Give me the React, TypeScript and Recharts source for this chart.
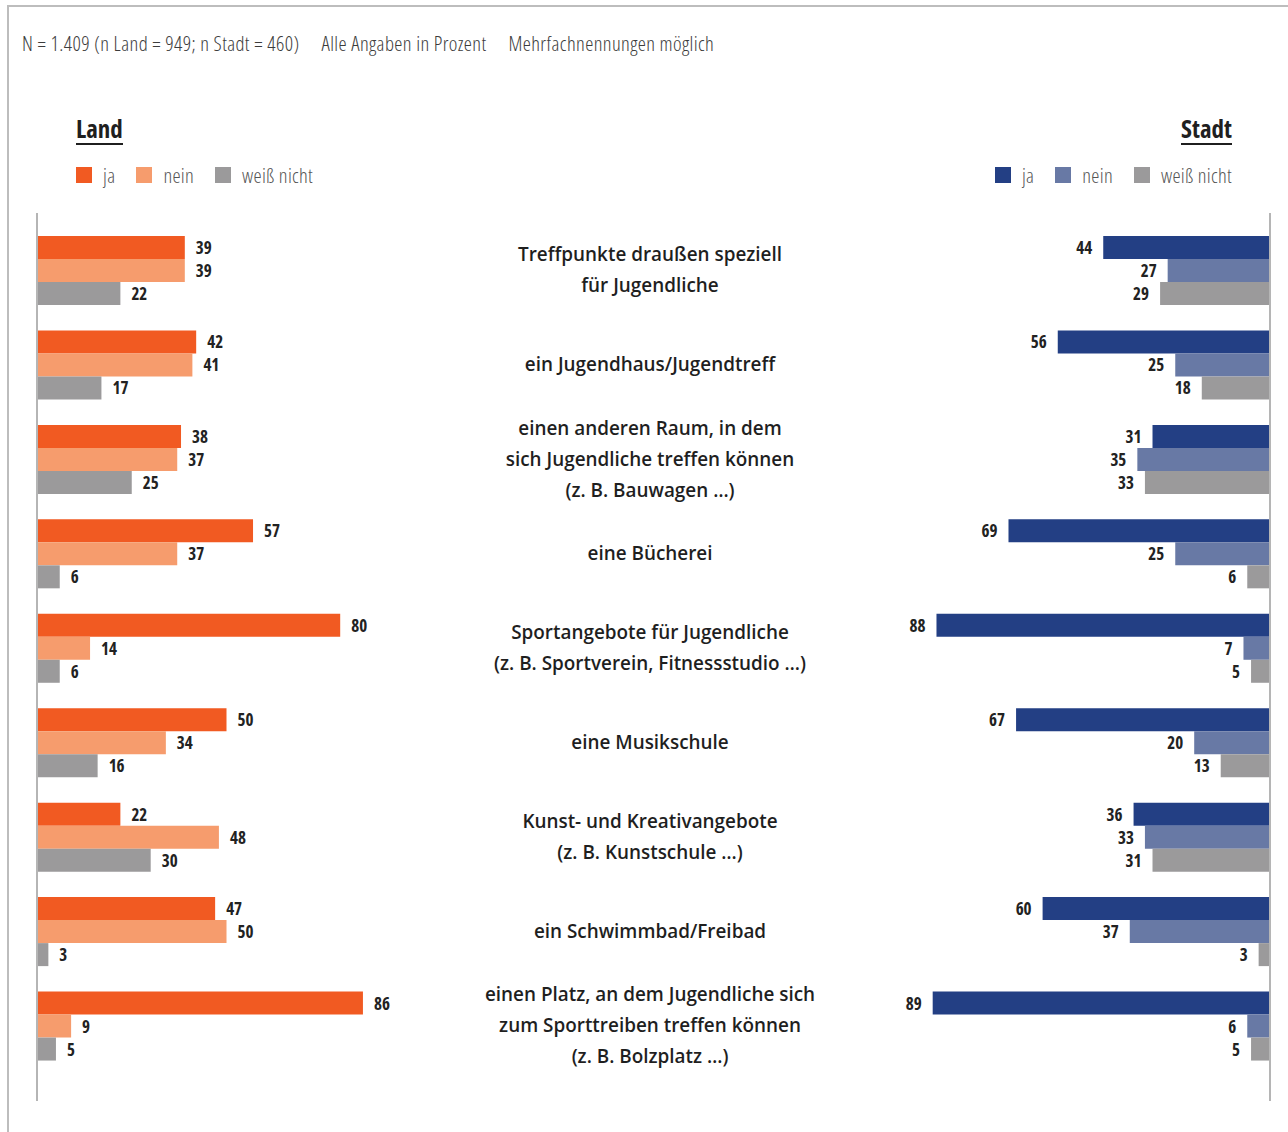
import { Bar, BarChart, LabelList, XAxis, YAxis } from "recharts"

const categories = [
  "Treffpunkte draußen speziell\nfür Jugendliche",
  "ein Jugendhaus/Jugendtreff",
  "einen anderen Raum, in dem\nsich Jugendliche treffen können\n(z. B. Bauwagen …)",
  "eine Bücherei",
  "Sportangebote für Jugendliche\n(z. B. Sportverein, Fitnessstudio …)",
  "eine Musikschule",
  "Kunst- und Kreativangebote\n(z. B. Kunstschule …)",
  "ein Schwimmbad/Freibad",
  "einen Platz, an dem Jugendliche sich\nzum Sporttreiben treffen können\n(z. B. Bolzplatz …)",
]

const landJa = [39, 42, 38, 57, 80, 50, 22, 47, 86]
const landNein = [39, 41, 37, 37, 14, 34, 48, 50, 9]
const landWeiss = [22, 17, 25, 6, 6, 16, 30, 3, 5]

const stadtJa = [44, 56, 31, 69, 88, 67, 36, 60, 89]
const stadtNein = [27, 25, 35, 25, 7, 20, 33, 37, 6]
const stadtWeiss = [29, 18, 33, 6, 5, 13, 31, 3, 5]

const legendLabels = ["ja", "nein", "weiß nicht"]
const notes = ["N = 1.409 (n Land = 949; n Stadt = 460)", "Alle Angaben in Prozent", "Mehrfachnennungen möglich"]

const COLORS = {
  landJa: "#F15A22",
  landNein: "#F69C6D",
  weiss: "#9B9A9B",
  stadtJa: "#233F84",
  stadtNein: "#6879A5",
}

const landData = categories.map((name, i) => ({
  name,
  ja: landJa[i],
  nein: landNein[i],
  weiss: landWeiss[i],
}))

const stadtData = categories.map((name, i) => ({
  name,
  ja: stadtJa[i],
  nein: stadtNein[i],
  weiss: stadtWeiss[i],
}))

const FONT = "'Open Sans', sans-serif"
const AXIS_GRAY = "#B5B5B5"

const CategoryTick = ({ y, payload }: any) => {
  const lines = String(payload.value).split("\n")
  const lineH = 31
  const startY = y - 0.5 - ((lines.length - 1) * lineH) / 2
  return (
    <text
      x={650}
      y={startY}
      textAnchor="middle"
      fill="#1F1F1F"
      fontSize={18.9}
      fontWeight={600}
      fontFamily={FONT}
      dominantBaseline="central"
    >
      {lines.map((line, i) => (
        <tspan key={i} x={650} y={startY + i * lineH}>
          {line}
        </tspan>
      ))}
    </text>
  )
}

const valueStyle = {
  fill: "#222",
  fontSize: 17,
  fontWeight: 700,
  fontFamily: FONT,
  fontStretch: "condensed",
}

const RightValue = (props: any) => {
  const { x, y, width, height, value } = props
  const left = Math.min(x, x + width)
  return (
    <text x={left - 11} y={y + height / 2} textAnchor="end" dominantBaseline="central" style={valueStyle as any}>
      {value}
    </text>
  )
}

const LeftValue = (props: any) => {
  const { x, y, width, height, value } = props
  const right = Math.max(x, x + width)
  return (
    <text x={right + 11} y={y + height / 2} textAnchor="start" dominantBaseline="central" style={valueStyle as any}>
      {value}
    </text>
  )
}

const lightText = {
  fontFamily: FONT,
  fontWeight: 300,
  fontStretch: "condensed",
  color: "#3C3C3C",
}

function Legend({ colors }: { colors: string[] }) {
  return (
    <div
      style={{
        ...lightText,
        display: "flex",
        gap: 21,
        alignItems: "center",
        fontSize: 20.5,
        letterSpacing: 0.3,
        color: "#555",
      }}
    >
      {legendLabels.map((label, i) => (
        <div key={label} style={{ display: "flex", alignItems: "center", gap: 11 }}>
          <span style={{ width: 16, height: 16, background: colors[i], display: "inline-block" }} />
          <span>{label}</span>
        </div>
      ))}
    </div>
  )
}

const titleStyle = {
  position: "absolute" as const,
  top: 113,
  fontFamily: FONT,
  fontWeight: 700,
  fontStretch: "condensed",
  fontSize: 25,
  color: "#1F1F1F",
  borderBottom: "2px solid #1F1F1F",
  lineHeight: "30px",
}

const chartMargin = { top: 213, bottom: 31 }

export default function App() {
  return (
    <div
      style={{
        position: "absolute",
        left: 0,
        top: 0,
        width: 1288,
        height: 1132,
        background: "#fff",
        overflow: "hidden",
      }}
    >
      {/* frame */}
      <div style={{ position: "absolute", left: 7, top: 5, right: 0, height: 2, background: "#BDBDBD" }} />
      <div style={{ position: "absolute", left: 7, top: 5, width: 2, bottom: 0, background: "#BDBDBD" }} />

      <div
        style={{
          ...lightText,
          position: "absolute",
          left: 22,
          top: 29,
          fontSize: 20.5,
          letterSpacing: 0.4,
          display: "flex",
          gap: 22,
          whiteSpace: "pre",
        }}
      >
        {notes.map((n) => (
          <span key={n}>{n}</span>
        ))}
      </div>

      <div style={{ ...titleStyle, left: 76 }}>Land</div>
      <div style={{ ...titleStyle, right: 1288 - 1232 }}>Stadt</div>

      <div style={{ position: "absolute", left: 76, top: 161 }}>
        <Legend colors={[COLORS.landJa, COLORS.landNein, COLORS.weiss]} />
      </div>
      <div style={{ position: "absolute", right: 1288 - 1232, top: 161 }}>
        <Legend colors={[COLORS.stadtJa, COLORS.stadtNein, COLORS.weiss]} />
      </div>

      {/* Stadt */}
      <div style={{ position: "absolute", left: 800, top: 0 }}>
        <BarChart
          width={488}
          height={1132}
          data={stadtData}
          layout="vertical"
          margin={{ ...chartMargin, left: 91, right: 0 }}
          barGap={0}
          barSize={23}
        >
          <XAxis type="number" domain={[0, 100]} reversed hide />
          <YAxis
            type="category"
            dataKey="name"
            orientation="right"
            width={18}
            padding={{ top: 10, bottom: 28 }}
            axisLine={{ stroke: AXIS_GRAY, strokeWidth: 2 }}
            tickLine={false}
            tick={false}
          />
          <Bar dataKey="ja" fill={COLORS.stadtJa} isAnimationActive={false}>
            <LabelList dataKey="ja" content={<RightValue />} />
          </Bar>
          <Bar dataKey="nein" fill={COLORS.stadtNein} isAnimationActive={false}>
            <LabelList dataKey="nein" content={<RightValue />} />
          </Bar>
          <Bar dataKey="weiss" fill={COLORS.weiss} isAnimationActive={false}>
            <LabelList dataKey="weiss" content={<RightValue />} />
          </Bar>
        </BarChart>
      </div>

      {/* Land */}
      <div style={{ position: "absolute", left: 0, top: 0 }}>
        <BarChart
          width={900}
          height={1132}
          data={landData}
          layout="vertical"
          margin={{ ...chartMargin, left: 0, right: 484 }}
          barGap={0}
          barSize={23}
        >
          <XAxis type="number" domain={[0, 100]} hide />
          <YAxis
            type="category"
            dataKey="name"
            width={37}
            padding={{ top: 10, bottom: 28 }}
            axisLine={{ stroke: AXIS_GRAY, strokeWidth: 2 }}
            tickLine={false}
            tick={<CategoryTick />}
            interval={0}
          />
          <Bar dataKey="ja" fill={COLORS.landJa} isAnimationActive={false}>
            <LabelList dataKey="ja" content={<LeftValue />} />
          </Bar>
          <Bar dataKey="nein" fill={COLORS.landNein} isAnimationActive={false}>
            <LabelList dataKey="nein" content={<LeftValue />} />
          </Bar>
          <Bar dataKey="weiss" fill={COLORS.weiss} isAnimationActive={false}>
            <LabelList dataKey="weiss" content={<LeftValue />} />
          </Bar>
        </BarChart>
      </div>
    </div>
  )
}
